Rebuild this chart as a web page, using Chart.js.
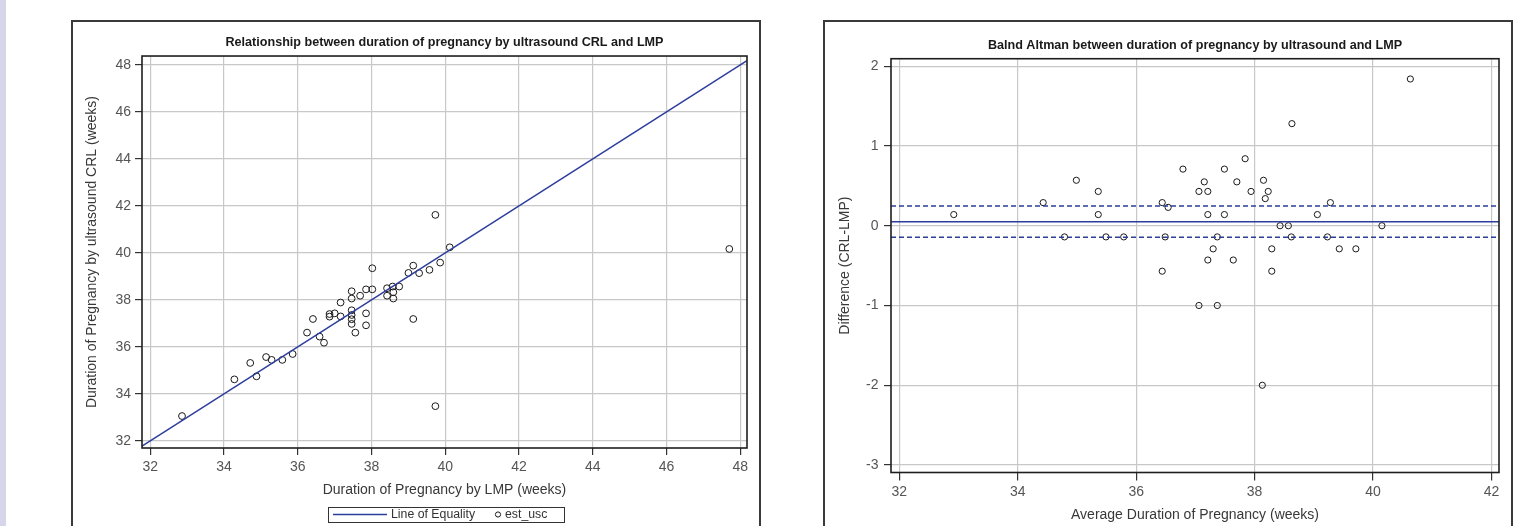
<!DOCTYPE html>
<html>
<head>
<meta charset="utf-8">
<script src="https://cdn.jsdelivr.net/npm/chart.js@4.4.1/dist/chart.umd.min.js"></script>
<style>
  html, body { margin:0; padding:0; background:#ffffff; }
  body { width:1524px; height:526px; overflow:hidden; position:relative; }
  #strip { position:absolute; left:0; top:0; width:6px; height:526px; background:#d6d6eb; }
  .panel { position:absolute; box-sizing:border-box; border:2px solid #3a3a3a; height:540px; }
  .cv { position:absolute; }
</style>
</head>
<body>
<div id="strip"></div>
<div class="panel" style="left:71px; top:20px; width:690px;"></div>
<div class="panel" style="left:823px; top:20px; width:690px;"></div>
<div class="cv" style="left:73px; top:22px; width:686px; height:504px;"><canvas id="c1"></canvas></div>
<div class="cv" style="left:825px; top:22px; width:686px; height:504px;"><canvas id="c2"></canvas></div>
<script>
// ---------- data: left chart (LMP vs ultrasound CRL, weeks) ----------
const lmpWeeks = [39.73, 40.12, 39.86, 39.57, 39.29, 39.13, 39.00, 38.02, 37.85, 38.02,
                  37.69, 37.46, 37.46, 37.16, 38.42, 38.57, 38.75, 38.59, 38.42, 38.59,
                  39.13, 36.41, 36.86, 37.00, 36.86, 37.16, 37.46, 37.46, 37.46, 37.46,
                  37.85, 37.85, 37.56, 36.25, 36.59, 36.71, 35.86, 35.58, 35.29, 35.14,
                  34.71, 34.88, 34.28, 39.73, 32.86, 47.70];
const crlWeeks = [41.62, 40.24, 39.59, 39.28, 39.14, 39.46, 39.15, 39.35, 38.45, 38.45,
                  38.18, 38.37, 38.06, 37.89, 38.50, 38.57, 38.57, 38.33, 38.18, 38.06,
                  37.19, 37.19, 37.40, 37.43, 37.29, 37.30, 37.56, 37.36, 37.18, 36.98,
                  37.43, 36.92, 36.61, 36.61, 36.44, 36.18, 35.70, 35.45, 35.45, 35.57,
                  35.32, 34.75, 34.62, 33.48, 33.06, 40.17];
const leftXRange = [31.775, 48.18];
const leftYRange = [31.70, 48.38];
const leftXTicks = [32, 34, 36, 38, 40, 42, 44, 46, 48];
const leftYTicks = [32, 34, 36, 38, 40, 42, 44, 46, 48];
const equalityLine = [31.775, 48.18];

// ---------- data: right chart (Bland-Altman) ----------
const avgWeeks = [32.92, 34.43, 34.99, 35.36, 35.36, 34.79, 35.49, 35.79, 36.44, 36.54,
                  36.49, 36.44, 36.79, 37.06, 37.15, 37.21, 37.21, 37.30, 37.37, 37.21,
                  37.06, 37.37, 37.49, 37.49, 37.64, 37.70, 37.84, 37.94, 38.15, 38.23,
                  38.18, 38.43, 38.57, 38.62, 38.29, 38.29, 39.06, 39.28, 39.23, 39.43,
                  39.71, 40.15, 38.13, 40.63, 38.63];
const diffWeeks = [0.14, 0.29, 0.57, 0.43, 0.14, -0.14, -0.14, -0.14, 0.29, 0.23,
                   -0.14, -0.57, 0.71, 0.43, 0.55, 0.43, 0.14, -0.29, -0.14, -0.43,
                   -1.0, -1.0, 0.71, 0.14, -0.43, 0.55, 0.84, 0.43, 0.57, 0.43,
                   0.34, 0.0, 0.0, -0.14, -0.29, -0.57, 0.14, 0.29, -0.14, -0.29,
                   -0.29, 0.0, -2.0, 1.84, 1.28];
const rightXRange = [31.86, 42.127];
const rightYRange = [-3.094, 2.094];
const rightXTicks = [32, 34, 36, 38, 40, 42];
const rightYTicks = [-3, -2, -1, 0, 1, 2];
const meanDiff = [0.051];
const limitsDiff = [0.248, -0.144];

// ---------- styling ----------
const FONT = '"Liberation Sans", Arial, Helvetica, sans-serif';
Chart.defaults.font.family = FONT;
const BLUE = '#2c3d9c';
const GRID = '#c8c8c8';

const framePlugin = {
  id: 'frame',
  afterDraw(chart) {
    const {ctx, chartArea: a} = chart;
    ctx.save();
    ctx.strokeStyle = '#1e1e1e';
    ctx.lineWidth = 1.6;
    ctx.strokeRect(a.left, a.top, a.right - a.left, a.bottom - a.top);
    ctx.restore();
  }
};

const boxLegendPlugin = {
  id: 'boxLegend',
  afterDraw(chart, args, opts) {
    if (!opts || !opts.show) return;
    const {ctx} = chart;
    const ds = chart.data.datasets;
    const y = opts.y;
    ctx.save();
    ctx.strokeStyle = '#333';
    ctx.lineWidth = 1;
    ctx.strokeRect(opts.left + 0.5, opts.top + 0.5, opts.width, opts.height);
    ctx.strokeStyle = ds[0].borderColor;
    ctx.lineWidth = 1.5;
    ctx.beginPath();
    ctx.moveTo(opts.left + 5, y);
    ctx.lineTo(opts.left + 59, y);
    ctx.stroke();
    ctx.fillStyle = '#333';
    ctx.font = '12.3px ' + FONT;
    ctx.textBaseline = 'middle';
    ctx.textAlign = 'left';
    ctx.fillText(ds[0].label, opts.left + 63, y);
    ctx.strokeStyle = ds[1].borderColor;
    ctx.lineWidth = 1;
    ctx.beginPath();
    ctx.arc(opts.left + 170, y, 2.6, 0, Math.PI * 2);
    ctx.stroke();
    ctx.fillText(ds[1].label, opts.left + 177, y);
    ctx.restore();
  }
};

function axis(range, ticks, size, titleText, titlePad, tickLen, tickPad, isX) {
  return {
    type: 'linear',
    min: range[0],
    max: range[1],
    afterBuildTicks: s => { s.ticks = ticks.map(v => ({value: v})); },
    afterFit: s => { if (isX) s.height = size; else s.width = size; },
    grid: { color: GRID, lineWidth: 1.2, tickLength: tickLen, tickColor: '#333', tickWidth: 1.2, drawTicks: true },
    border: { display: false },
    ticks: { color: '#555', font: { size: 14 }, padding: tickPad, maxRotation: 0, autoSkip: false,
             callback: v => String(v) },
    title: { display: true, text: titleText, color: '#383838', font: { size: 14 }, padding: titlePad }
  };
}

// ---------- left chart ----------
new Chart(document.getElementById('c1'), {
  type: 'scatter',
  data: {
    datasets: [
      { label: 'Line of Equality',
        data: equalityLine.map(v => ({x: v, y: v})),
        showLine: true, borderColor: BLUE, borderWidth: 1.5, pointRadius: 0, fill: false },
      { label: 'est_usc',
        data: lmpWeeks.map((v, i) => ({x: v, y: crlWeeks[i]})),
        pointStyle: 'circle', pointRadius: 3.4, borderColor: '#1a1a1a', borderWidth: 1,
        backgroundColor: 'rgba(0,0,0,0)' }
    ]
  },
  options: {
    responsive: true, maintainAspectRatio: false, animation: false, events: [],
    layout: { padding: { left: 0, right: 12, top: 0, bottom: 0 } },
    plugins: {
      legend: { display: false },
      tooltip: { enabled: false },
      title: { display: true, fullSize: false,
               text: 'Relationship between duration of pregnancy by ultrasound CRL and LMP',
               color: '#1a1a1a', font: { size: 12.6, weight: 'bold' }, padding: { top: 12.5, bottom: 6.4 } },
      boxLegend: { show: true, left: 255, top: 485, width: 236, height: 15, y: 492.5 }
    },
    scales: {
      x: axis(leftXRange, leftXTicks, 78, 'Duration of Pregnancy by LMP (weeks)', { top: 0, bottom: 27.6 }, 7, 3.3, true),
      y: axis(leftYRange, leftYTicks, 69, 'Duration of Pregnancy by ultrasound CRL (weeks)', { top: 10.3, bottom: 0 }, 7, 4, false)
    }
  },
  plugins: [framePlugin, boxLegendPlugin]
});

// ---------- right chart ----------
new Chart(document.getElementById('c2'), {
  type: 'scatter',
  data: {
    datasets: [
      { label: 'Mean difference',
        data: rightXRange.map(x => ({x: x, y: meanDiff[0]})),
        showLine: true, borderColor: BLUE, borderWidth: 1.5, pointRadius: 0, fill: false },
      { label: 'Upper limit',
        data: rightXRange.map(x => ({x: x, y: limitsDiff[0]})),
        showLine: true, borderColor: BLUE, borderWidth: 1.5, borderDash: [5, 3], pointRadius: 0, fill: false },
      { label: 'Lower limit',
        data: rightXRange.map(x => ({x: x, y: limitsDiff[1]})),
        showLine: true, borderColor: BLUE, borderWidth: 1.5, borderDash: [5, 3], pointRadius: 0, fill: false },
      { label: 'Difference',
        data: avgWeeks.map((v, i) => ({x: v, y: diffWeeks[i]})),
        pointStyle: 'circle', pointRadius: 3.1, borderColor: '#1a1a1a', borderWidth: 1,
        backgroundColor: 'rgba(0,0,0,0)' }
    ]
  },
  options: {
    responsive: true, maintainAspectRatio: false, animation: false, events: [],
    layout: { padding: { left: 0, right: 12, top: 0, bottom: 0 } },
    plugins: {
      legend: { display: false },
      tooltip: { enabled: false },
      title: { display: true, fullSize: false,
               text: 'Balnd Altman between duration of pregnancy by ultrasound and LMP',
               color: '#1a1a1a', font: { size: 12.6, weight: 'bold' }, padding: { top: 15.5, bottom: 6.1 } }
    },
    scales: {
      x: axis(rightXRange, rightXTicks, 53.5, 'Average Duration of Pregnancy (weeks)', { top: 0, bottom: 2.6 }, 8, 2.8, true),
      y: axis(rightYRange, rightYTicks, 66, 'Difference (CRL-LMP)', { top: 11.6, bottom: 0 }, 7, 5.5, false)
    }
  },
  plugins: [framePlugin]
});
</script>
</body>
</html>
